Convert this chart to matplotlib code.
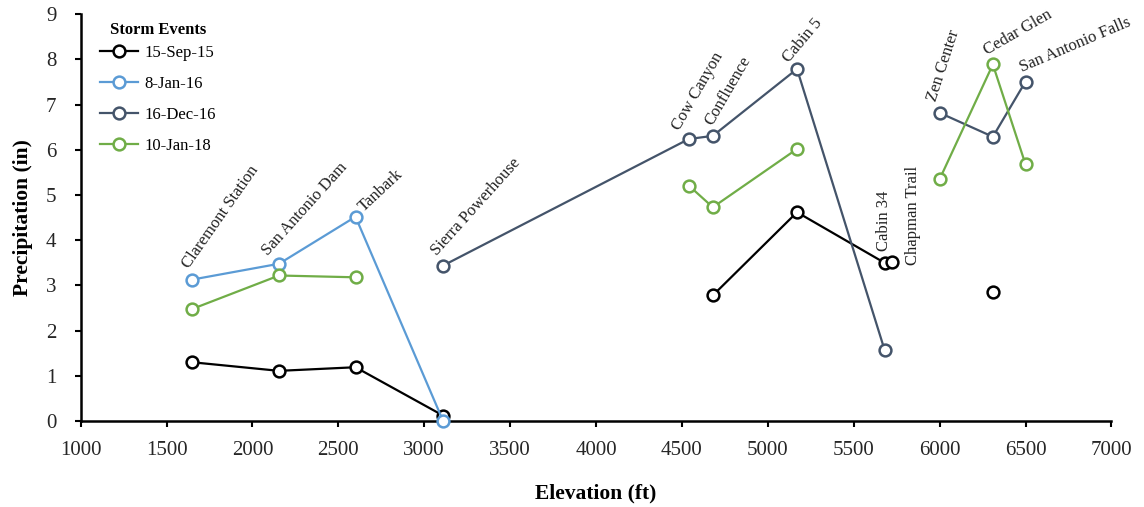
import numpy as np
import matplotlib.pyplot as plt

plt.rcParams['font.family'] = ['Liberation Serif', 'DejaVu Serif']

# station elevations (ft) and names
stations = ['Claremont Station', 'San Antonio Dam', 'Tanbark', 'Sierra Powerhouse',
            'Cow Canyon', 'Confluence', 'Cabin 5', 'Cabin 34', 'Chapman Trail',
            'Zen Center', 'Cedar Glen', 'San Antonio Falls']
elevation = [1650, 2155, 2600, 3110, 4540, 4680, 5170, 5680, 5720, 6000, 6310, 6500]

nan = np.nan
# precipitation (in) per storm event, nan where no gauge reading
sep15 = [1.30, 1.11, 1.19, 0.12, nan, 2.78, 4.62, 3.50, 3.52, nan, 2.86, nan]
jan16 = [3.13, 3.48, 4.52, 0.00, nan, nan, nan, nan, nan, nan, nan, nan]
dec16 = [nan, nan, nan, 3.44, 6.24, 6.31, 7.79, 1.57, nan, 6.82, 6.29, 7.51]
jan18 = [2.48, 3.22, 3.18, nan, 5.21, 4.73, 6.02, nan, nan, 5.35, 7.89, 5.68]

events = ['15-Sep-15', '8-Jan-16', '16-Dec-16', '10-Jan-18']
colors = ['#000000', '#5b9bd5', '#44546a', '#70ad47']

# where each station name starts, and its angle
label_x = [1650, 2110, 2665, 3090, 4505, 4700, 5140, 5675, 5843, 6000, 6290, 6490]
label_y = [3.31, 3.60, 4.55, 3.60, 6.37, 6.48, 7.87, 3.76, 3.45, 7.03, 8.03, 7.65]
label_rot = [55, 48, 43, 48, 60, 60, 50, 90, 90, 72, 30, 23]

fig = plt.figure(figsize=(11.44, 5.07), dpi=100)
ax = fig.add_axes([0.0705, 0.1696, 0.901, 0.8022])

for vals, name, c in zip([sep15, jan16, dec16, jan18], events, colors):
    ax.plot(elevation, vals, color=c, lw=1.6, marker='o', ms=8.5,
            mfc='white', mec=c, mew=1.8, label=name, clip_on=False, zorder=3)

for name, x, y, r in zip(stations, label_x, label_y, label_rot):
    va = 'center' if r == 90 else 'bottom'
    ax.text(x, y, name, rotation=r, rotation_mode='anchor', ha='left', va=va,
            fontsize=12, color='#222222')

ax.set_xlim(1000, 7000)
ax.set_ylim(0, 9)
ax.set_xticks(np.arange(1000, 7001, 500))
ax.set_yticks(np.arange(0, 10, 1))
ax.spines['top'].set_visible(False)
ax.spines['right'].set_visible(False)
ax.spines['left'].set_linewidth(1.8)
ax.spines['bottom'].set_linewidth(1.8)
ax.tick_params(direction='out', length=4.5, width=1.5, labelsize=15,
               labelcolor='#262626')
ax.tick_params(axis='x', pad=10)
ax.tick_params(axis='y', pad=13)

ax.set_xlabel('Elevation (ft)', fontsize=15.5, fontweight='bold', labelpad=17)
ax.set_ylabel('Precipitation (in)', fontsize=15.5, fontweight='bold', labelpad=9)

leg = ax.legend(title='Storm Events', loc='upper left', frameon=False,
                fontsize=12, title_fontproperties={'weight': 'bold', 'size': 12},
                handlelength=2.3, handletextpad=0.4, labelspacing=0.9,
                bbox_to_anchor=(0.004, 1.018))
# pull the title a little closer to the entries
leg._legend_box.sep = 5

fig.savefig('out.png', dpi=100)
